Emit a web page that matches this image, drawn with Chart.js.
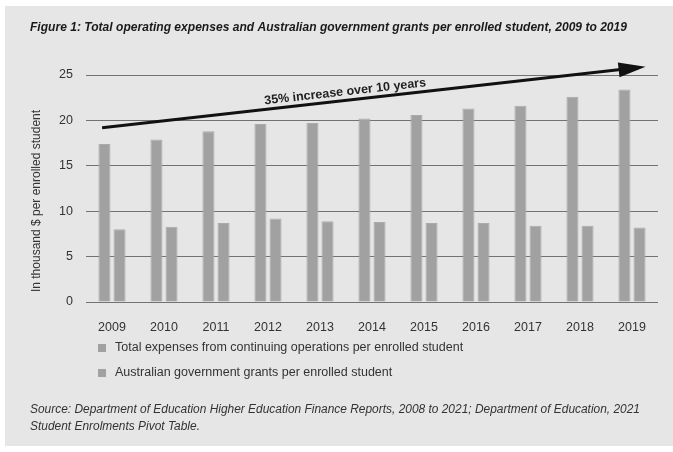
<!DOCTYPE html>
<html>
<head>
<meta charset="utf-8">
<script src="https://cdn.jsdelivr.net/npm/chart.js@4/dist/chart.umd.min.js"></script>
<style>
  html, body { margin: 0; padding: 0; background: #ffffff; }
  #wrap { width: 673px; height: 452px; }
</style>
</head>
<body>
<div id="wrap"><canvas id="fig" width="673" height="452"></canvas></div>
<script>
// Years on the category axis
const years = ['2009', '2010', '2011', '2012', '2013', '2014', '2015', '2016', '2017', '2018', '2019'];

// Thousand dollars per enrolled student
const totalExpenses = [17.4, 17.9, 18.8, 19.6, 19.7, 20.2, 20.6, 21.3, 21.6, 22.6, 23.4];
const govGrants     = [8.0, 8.3, 8.7, 9.2, 8.9, 8.8, 8.7, 8.7, 8.4, 8.4, 8.2];

// Value axis ticks
const yTicks = [0, 5, 10, 15, 20, 25];

const seriesLabels = [
  'Total expenses from continuing operations per enrolled student',
  'Australian government grants per enrolled student'
];

const titleText = 'Figure 1: Total operating expenses and Australian government grants per enrolled student, 2009 to 2019';
const sourceLines = [
  'Source: Department of Education Higher Education Finance Reports, 2008 to 2021; Department of Education, 2021',
  'Student Enrolments Pivot Table.'
];
const yTitle = 'In thousand $ per enrolled student';
const arrowLabel = '35% increase over 10 years';

const FONT = '"Liberation Sans", Arial, Helvetica, sans-serif';
const TEXT = '#333333';
const BAR = '#a1a1a1';

// Page panel, heading, axis title, stacked legend and footnote
const framePlugin = {
  id: 'frame',
  beforeDraw(chart) {
    const ctx = chart.ctx;
    ctx.save();
    ctx.fillStyle = '#ffffff';
    ctx.fillRect(0, 0, chart.width, chart.height);
    ctx.fillStyle = '#e6e6e6';
    ctx.fillRect(5, 6, chart.width - 5, 440);

    // heading, squeezed to the panel's text width
    ctx.fillStyle = '#1a1a1a';
    ctx.font = 'italic bold 13px ' + FONT;
    ctx.textBaseline = 'middle';
    ctx.textAlign = 'left';
    const w = ctx.measureText(titleText).width;
    ctx.save();
    ctx.translate(30, 27);
    ctx.scale(597 / w, 1);
    ctx.fillText(titleText, 0, 0);
    ctx.restore();

    // footnote
    ctx.fillStyle = TEXT;
    ctx.font = 'italic 12.5px ' + FONT;
    const sw = ctx.measureText(sourceLines[0]).width;
    const k = 610 / sw;
    sourceLines.forEach((line, i) => {
      ctx.save();
      ctx.translate(30, 410 + i * 16.5);
      ctx.scale(k, 1);
      ctx.fillText(line, 0, 0);
      ctx.restore();
    });

    // value axis title
    ctx.save();
    ctx.translate(37, 201);
    ctx.rotate(-Math.PI / 2);
    ctx.textAlign = 'center';
    ctx.font = '12px ' + FONT;
    ctx.fillText(yTitle, 0, 0);
    ctx.restore();

    // legend
    ctx.font = '12.5px ' + FONT;
    ctx.textAlign = 'left';
    chart.data.datasets.forEach((ds, i) => {
      const cy = 348 + i * 25;
      ctx.fillStyle = ds.backgroundColor;
      ctx.fillRect(98, cy - 4, 8, 8);
      ctx.fillStyle = TEXT;
      ctx.fillText(ds.label, 115, cy);
    });
    ctx.restore();
  }
};

// Trend arrow placed in axis units
const arrowPlugin = {
  id: 'trendArrow',
  afterDatasetsDraw(chart, args, opts) {
    const xs = chart.scales.x, ys = chart.scales.y;
    const x0 = xs.getPixelForValue(opts.from[0]);
    const y0 = ys.getPixelForValue(opts.from[1]);
    const x1 = xs.getPixelForValue(opts.to[0]);
    const y1 = ys.getPixelForValue(opts.to[1]);
    const ang = Math.atan2(y1 - y0, x1 - x0);
    const len = Math.hypot(x1 - x0, y1 - y0);
    const ctx = chart.ctx;
    ctx.save();
    ctx.translate(x0, y0);
    ctx.rotate(ang);
    ctx.strokeStyle = opts.color;
    ctx.fillStyle = opts.color;
    ctx.lineWidth = opts.width;
    ctx.beginPath();
    ctx.moveTo(0, 0);
    ctx.lineTo(len - opts.headLength + 2, 0);
    ctx.stroke();
    ctx.beginPath();
    ctx.moveTo(len, 0);
    ctx.lineTo(len - opts.headLength, -opts.headHalf);
    ctx.lineTo(len - opts.headLength, opts.headHalf);
    ctx.closePath();
    ctx.fill();
    // label along the arrow
    ctx.font = 'bold 12.5px ' + FONT;
    ctx.fillStyle = '#222222';
    ctx.textAlign = 'center';
    ctx.textBaseline = 'middle';
    ctx.fillText(opts.label, len * opts.labelAt, -opts.labelOffset);
    ctx.restore();
  }
};

new Chart(document.getElementById('fig'), {
  type: 'bar',
  data: {
    labels: years,
    datasets: [
      { label: seriesLabels[0], data: totalExpenses, backgroundColor: BAR, borderColor: '#ababab', borderWidth: 1 },
      { label: seriesLabels[1], data: govGrants, backgroundColor: BAR, borderColor: '#ababab', borderWidth: 1 }
    ]
  },
  options: {
    responsive: false,
    animation: false,
    devicePixelRatio: 1,
    layout: { padding: { left: 0, right: 15, top: 75, bottom: 0 } },
    datasets: { bar: { categoryPercentage: 0.58, barPercentage: 0.8 } },
    scales: {
      x: {
        grid: { display: false },
        border: { display: false },
        ticks: { color: TEXT, font: { family: FONT, size: 12.5 }, padding: 10, maxRotation: 0 },
        afterFit(scale) { scale.height = 150; }
      },
      y: {
        min: yTicks[0],
        max: yTicks[yTicks.length - 1],
        grid: { color: '#727272', lineWidth: 1, drawTicks: false },
        border: { display: false },
        ticks: {
          stepSize: yTicks[1] - yTicks[0],
          color: TEXT,
          font: { family: FONT, size: 12.5 },
          padding: 13
        },
        afterFit(scale) { scale.width = 86; }
      }
    },
    plugins: {
      legend: { display: false },
      tooltip: { enabled: false },
      trendArrow: {
        from: [-0.19, 19.2],
        to: [10.26, 25.9],
        color: '#111111',
        width: 3,
        headLength: 27,
        headHalf: 7.5,
        label: arrowLabel,
        labelAt: 0.449,
        labelOffset: 8.5
      }
    }
  },
  plugins: [framePlugin, arrowPlugin]
});
</script>
</body>
</html>
